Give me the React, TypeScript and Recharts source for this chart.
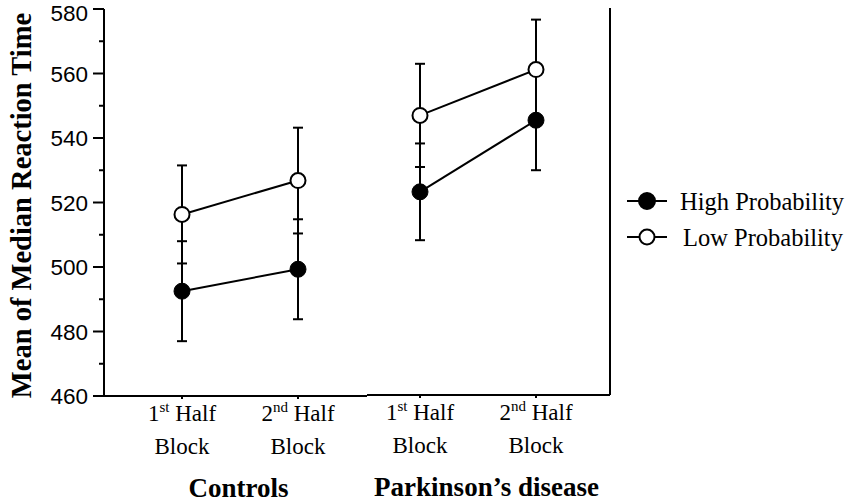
import { ErrorBar, Legend, Line, LineChart, XAxis, YAxis } from 'recharts';

const blocks = ['1st Half Block', '2nd Half Block'];
const yTicks = [460, 470, 480, 490, 500, 510, 520, 530, 540, 550, 560, 570, 580];

const controlsHigh = [492.5, 499.3];
const controlsHighErr = [15.5, 15.5];
const controlsLow = [516.3, 526.8];
const controlsLowErr = [15.2, 16.4];

const parkinsonHigh = [523.0, 545.2];
const parkinsonHighErr = [15.0, 15.5];
const parkinsonLow = [546.7, 560.9];
const parkinsonLowErr = [16.0, 15.5];

const SERIF = '"Liberation Serif", "Times New Roman", serif';
const SANS = '"Liberation Sans", Arial, sans-serif';

const controlsData = blocks.map((block, i) => ({
  block,
  high: controlsHigh[i],
  highErr: controlsHighErr[i],
  low: controlsLow[i],
  lowErr: controlsLowErr[i],
}));

const parkinsonData = blocks.map((block, i) => ({
  block,
  high: parkinsonHigh[i],
  highErr: parkinsonHighErr[i],
  low: parkinsonLow[i],
  lowErr: parkinsonLowErr[i],
}));

function BlockTick({ x, y, payload }: any) {
  const m = /^(\d+)(\w\w) (\w+) (\w+)$/.exec(String(payload.value));
  if (!m) return null;
  return (
    <g>
      <text x={x} y={y + 22} textAnchor="middle" fontFamily={SERIF} fontSize={23} fill="#000">
        {m[1]}
        <tspan fontSize={15} dy={-9}>{m[2]}</tspan>
        <tspan dy={9}>{'\u00a0' + m[3]}</tspan>
      </text>
      <text x={x} y={y + 55} textAnchor="middle" fontFamily={SERIF} fontSize={23} fill="#000">
        {m[4]}
      </text>
    </g>
  );
}

function LeftTick({ x, y, payload }: any) {
  const major = payload.value % 20 === 0;
  // keep the top label inside the picture, as in the original
  const ty = Math.max(y, 13);
  return (
    <g>
      <line x1={x} x2={x - (major ? 11 : 5)} y1={y} y2={y} stroke="#000" strokeWidth={2} />
      {major && (
        <text x={x - 16} y={ty} dy="0.36em" textAnchor="end" fontFamily={SANS} fontSize={22.5} fill="#000">
          {payload.value}
        </text>
      )}
    </g>
  );
}

const groupLabel = (text: string, dx: number) => (props: any) => {
  const vb = props.viewBox;
  return (
    <text
      x={vb.x + vb.width / 2 + dx}
      y={vb.y + 101}
      textAnchor="middle"
      fontFamily={SERIF}
      fontWeight="bold"
      fontSize={27}
      fill="#000"
    >
      {text}
    </text>
  );
};

const yLabel = (props: any) => {
  const vb = props.viewBox;
  const cx = vb.x + 21;
  const cy = vb.y + vb.height / 2 + 3;
  return (
    <text
      x={cx}
      y={cy}
      transform={`rotate(-90 ${cx} ${cy})`}
      textAnchor="middle"
      dy="0.35em"
      fontFamily={SERIF}
      fontWeight="bold"
      fontSize={28.5}
      fill="#000"
    >
      Mean of Median Reaction Time
    </text>
  );
};

function ProbabilityLegend({ payload }: any) {
  return (
    <svg width={223} height={70}>
      {(payload || []).map((entry: any, i: number) => {
        const cy = 15 + i * 36;
        const filled = entry.value === 'High Probability';
        return (
          <g key={entry.value}>
            <line x1={0} x2={40} y1={cy} y2={cy} stroke="#000" strokeWidth={2} />
            <circle cx={20} cy={cy} r={filled ? 8 : 7.5} fill={filled ? '#000' : '#fff'} stroke="#000" strokeWidth={2} />
            <text x={filled ? 53 : 56} y={cy} dy="0.35em" fontFamily={SERIF} fontSize={24.5} fill="#000">
              {entry.value}
            </text>
          </g>
        );
      })}
    </svg>
  );
}

function Series() {
  return [
    <Line
      key="high"
      name="High Probability"
      dataKey="high"
      type="linear"
      stroke="#000"
      strokeWidth={2}
      dot={{ r: 8, fill: '#000', stroke: '#000', strokeWidth: 1 }}
      activeDot={false}
      isAnimationActive={false}
    >
      <ErrorBar dataKey="highErr" width={5} stroke="#000" strokeWidth={2} direction="y" />
    </Line>,
    <Line
      key="low"
      name="Low Probability"
      dataKey="low"
      type="linear"
      stroke="#000"
      strokeWidth={2}
      dot={{ r: 7.5, fill: '#fff', stroke: '#000', strokeWidth: 2 }}
      activeDot={false}
      isAnimationActive={false}
    >
      <ErrorBar dataKey="lowErr" width={5} stroke="#000" strokeWidth={2} direction="y" />
    </Line>,
  ];
}

export default function App() {
  const axisLine = { stroke: '#000', strokeWidth: 2 };
  const tickLine = { stroke: '#000', strokeWidth: 2 };
  return (
    <div style={{ position: 'absolute', left: 0, top: 0, width: 850, height: 502, background: '#fff' }}>
      <div style={{ position: 'absolute', left: 0, top: 0 }}>
        <LineChart width={367} height={502} data={controlsData} margin={{ top: 9, right: 0, bottom: 0, left: 0 }}>
          <XAxis
            xAxisId="top"
            orientation="top"
            dataKey="block"
            height={0}
            padding={{ left: 78, right: 69 }}
            axisLine={axisLine}
            tickLine={tickLine}
            tickSize={5}
            tick={false}
          />
          <XAxis
            dataKey="block"
            height={106}
            padding={{ left: 78, right: 69 }}
            axisLine={axisLine}
            tickLine={tickLine}
            tickSize={3}
            tickMargin={0}
            tick={<BlockTick />}
            interval={0}
            label={{ value: 'Controls', content: groupLabel('Controls', 3) }}
          />
          <YAxis
            width={104}
            domain={[460, 580]}
            ticks={yTicks}
            interval={0}
            axisLine={axisLine}
            tickLine={false}
            tickSize={0}
            tickMargin={0}
            tick={<LeftTick />}
            label={{ value: 'Mean of Median Reaction Time', content: yLabel }}
          />
          {Series()}
        </LineChart>
      </div>
      <div style={{ position: 'absolute', left: 367, top: 0 }}>
        <LineChart width={483} height={502} data={parkinsonData} margin={{ top: 8, right: 220, bottom: 0, left: 0 }}>
          <XAxis
            xAxisId="top"
            orientation="top"
            dataKey="block"
            height={0}
            padding={{ left: 53, right: 74 }}
            axisLine={axisLine}
            tickLine={tickLine}
            tickSize={5}
            tick={false}
          />
          <XAxis
            dataKey="block"
            height={107}
            padding={{ left: 53, right: 74 }}
            axisLine={axisLine}
            tickLine={tickLine}
            tickSize={3}
            tickMargin={0}
            tick={<BlockTick />}
            interval={0}
            label={{ value: 'Parkinson\u2019s disease', content: groupLabel('Parkinson\u2019s disease', -2) }}
          />
          <YAxis
            orientation="right"
            width={20}
            domain={[460, 580]}
            ticks={yTicks}
            interval={0}
            axisLine={axisLine}
            tickLine={tickLine}
            tickSize={8}
            tick={false}
          />
          <Legend
            layout="horizontal"
            verticalAlign="middle"
            align="center"
            content={<ProbabilityLegend />}
            wrapperStyle={{ left: 260, top: 186, width: 223, height: 70 }}
          />
          {Series()}
        </LineChart>
      </div>
    </div>
  );
}
